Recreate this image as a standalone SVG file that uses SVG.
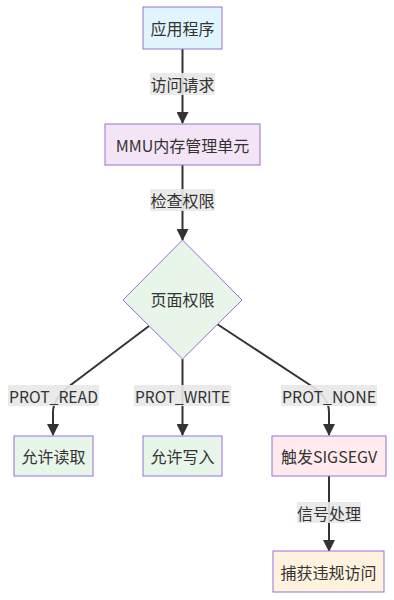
<svg xmlns="http://www.w3.org/2000/svg" width="394" height="600" viewBox="0 0 394 600">
<defs>
<style>
.node rect,.node polygon{stroke:#9370DB;stroke-width:1}
.t{font-family:"Noto Sans CJK SC","Liberation Sans",sans-serif;font-size:16px;fill:#333;text-anchor:middle;dominant-baseline:central}
.edge{fill:none;stroke:#333;stroke-width:2}
.lbg{fill:#e8e8e8;opacity:0.9}
</style>
<marker id="arrow" viewBox="0 0 12 12" refX="11" refY="6" markerWidth="12" markerHeight="12" markerUnits="userSpaceOnUse" orient="auto">
<path d="M0,0 L12,6 L0,12 z" fill="#333"/>
</marker>
</defs>
<rect width="394" height="600" fill="#ffffff"/>
<g id="connectors">
<path class="edge" d="M182.5,49 L182.5,123" marker-end="url(#arrow)"/>
<path class="edge" d="M182.5,165 L182.5,240" marker-end="url(#arrow)"/>
<path class="edge" d="M149,326 L72,384 Q53,398 53,412 L53,435" marker-end="url(#arrow)"/>
<path class="edge" d="M182.5,359 L182.5,435" marker-end="url(#arrow)"/>
<path class="edge" d="M217,324 L310,385 Q329,397 329,412 L329,435" marker-end="url(#arrow)"/>
<path class="edge" d="M329,476 L329,551" marker-end="url(#arrow)"/>
<g id="edge-labels">
<rect class="lbg" x="150" y="73" width="65" height="22"/>
<text class="t" x="182.5" y="84">访问请求</text>
<rect class="lbg" x="150" y="189" width="65" height="22"/>
<text class="t" x="182.5" y="200">检查权限</text>
<rect class="lbg" x="8" y="385" width="91" height="21"/>
<text class="t" x="53.5" y="395.5" textLength="89" lengthAdjust="spacingAndGlyphs">PROT_READ</text>
<rect class="lbg" x="134" y="385" width="97" height="21"/>
<text class="t" x="182.5" y="395.5" textLength="95" lengthAdjust="spacingAndGlyphs">PROT_WRITE</text>
<rect class="lbg" x="281" y="385" width="96" height="21"/>
<text class="t" x="329" y="395.5" textLength="94" lengthAdjust="spacingAndGlyphs">PROT_NONE</text>
<rect class="lbg" x="297" y="502" width="64" height="21"/>
<text class="t" x="329" y="512.5">信号处理</text>
</g>
</g>
<g id="app" class="node">
<rect x="143" y="7" width="79" height="42" fill="#e1f5fe"/>
<text class="t" x="182.5" y="28">应用程序</text>
</g>
<g id="mmu" class="node">
<rect x="105" y="124" width="155" height="41" fill="#f3e5f5"/>
<text class="t" x="182.5" y="144.5">MMU内存管理单元</text>
</g>
<g id="perm" class="node">
<polygon points="182.5,240 242,300 182.5,359 123,300" fill="#e8f5e9"/>
<text class="t" x="182.5" y="299">页面权限</text>
</g>
<g id="read" class="node">
<rect x="14" y="436" width="79" height="40" fill="#e8f5e9"/>
<text class="t" x="53.5" y="456">允许读取</text>
</g>
<g id="write" class="node">
<rect x="143" y="436" width="79" height="40" fill="#e8f5e9"/>
<text class="t" x="182.5" y="456">允许写入</text>
</g>
<g id="sigsegv" class="node">
<rect x="272" y="436" width="114" height="40" fill="#ffebee"/>
<text class="t" x="329" y="456">触发SIGSEGV</text>
</g>
<g id="catch" class="node">
<rect x="273" y="551" width="111" height="41" fill="#fff3e0"/>
<text class="t" x="328.5" y="571.5">捕获违规访问</text>
</g>
</svg>
